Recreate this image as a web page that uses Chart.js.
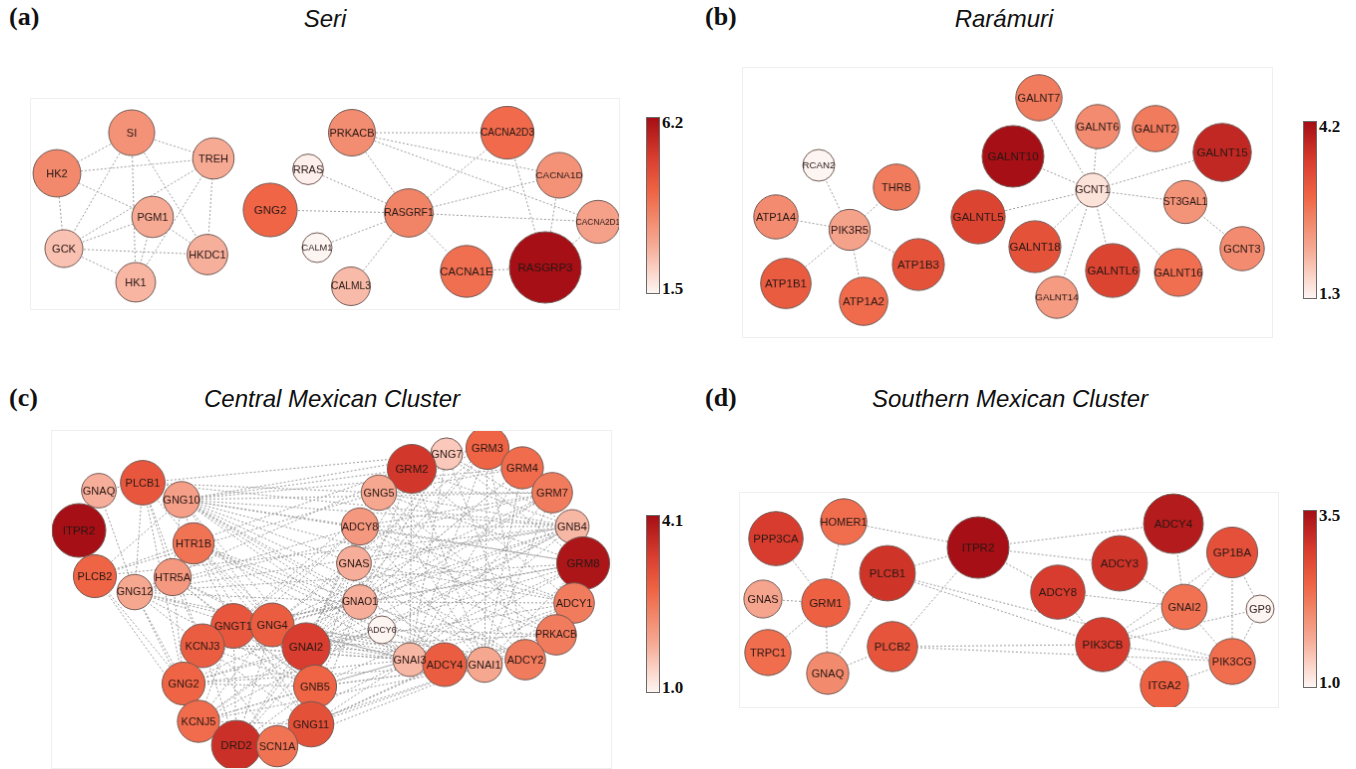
<!DOCTYPE html>
<html>
<head>
<meta charset="utf-8">
<script src="https://cdn.jsdelivr.net/npm/chart.js@4.4.1/dist/chart.umd.min.js"></script>
<style>
  body { margin: 0; background: #fff; width: 1356px; height: 769px; overflow: hidden; position: relative; }
  .tag { position: absolute; font: bold 26px "Liberation Serif", "Times New Roman", serif; color: #111; }
  .title { position: absolute; font: italic 24px "Liberation Sans", Arial, sans-serif; color: #111; transform: translateX(-50%); white-space: nowrap; }
  canvas { position: absolute; border: 1px solid #efefef; box-sizing: content-box; }
  .bar { position: absolute; width: 12px; border: 1px solid #6a6a6a; }
  .tick { position: absolute; font: bold 17px "Liberation Serif", "Times New Roman", serif; color: #111; line-height: 17px; }
</style>
</head>
<body>
<div class="tag" style="left:9px;top:2px">(a)</div>
<div class="title" style="left:325px;top:5px">Seri</div>
<div class="tag" style="left:705px;top:2px">(b)</div>
<div class="title" style="left:1004px;top:5px">Rarámuri</div>
<div class="tag" style="left:9px;top:383px">(c)</div>
<div class="title" style="left:332px;top:385px">Central Mexican Cluster</div>
<div class="tag" style="left:705px;top:383px">(d)</div>
<div class="title" style="left:1010px;top:385px">Southern Mexican Cluster</div>

<canvas id="netA" width="590" height="212" style="left:30px;top:98px"></canvas>
<canvas id="netB" width="531" height="271" style="left:742px;top:67px"></canvas>
<canvas id="netC" width="561" height="339" style="left:51px;top:430px"></canvas>
<canvas id="netD" width="540" height="216" style="left:739px;top:492px"></canvas>

<script>
// ---- (a) Seri ----
const seriGenes  = ['SI','TREH','HK2','PGM1','GCK','HKDC1','HK1','RRAS','GNG2','CALM1','PRKACB','CACNA2D3','CACNA1D','RASGRF1','CACNA2D1','CALML3','CACNA1E','RASGRP3'];
const seriValues = [3.3, 2.8, 3.5, 2.8, 2.4, 2.7, 2.6, 1.6, 4.2, 1.5, 3.4, 4.1, 3.3, 3.6, 3.0, 2.5, 4.0, 6.2];
const seriX      = [101, 183, 26, 122, 33, 177, 105, 278, 240, 287, 322, 478, 530, 379, 569, 321, 437, 516];
const seriY      = [34, 60, 75, 119, 151, 157, 185, 71, 112, 150, 34, 34, 77, 115, 124, 189, 174, 170];
const seriEdges  = 'SI-HK2 SI-TREH SI-GCK SI-HK1 SI-HKDC1 HK2-TREH HK2-PGM1 HK2-GCK TREH-GCK TREH-HK1 TREH-HKDC1 GCK-PGM1 GCK-HKDC1 GCK-HK1 PGM1-HK1 PGM1-HKDC1 ' +
  'PRKACB-CACNA2D3 PRKACB-CACNA1D PRKACB-CACNA2D1 PRKACB-RASGRF1 RRAS-RASGRF1 GNG2-RASGRF1 CALM1-RASGRF1 CALML3-RASGRF1 RASGRF1-CACNA2D3 RASGRF1-CACNA1D ' +
  'RASGRF1-CACNA2D1 RASGRF1-CACNA1E CACNA1E-RASGRP3 CACNA2D3-RASGRP3 CACNA1D-RASGRP3 CACNA2D1-RASGRP3';
const seriRange  = [1.5, 6.2];

// ---- (b) Rarámuri ----
const raraGenes  = ['GALNT7','GALNT10','RCAN2','THRB','ATP1A4','PIK3R5','GALNTL5','GALNT18','ATP1B3','ATP1B1','ATP1A2','GALNT14','GALNT6','GALNT2','GALNT15','GCNT1','ST3GAL1','GCNT3','GALNTL6','GALNT16'];
const raraValues = [2.7, 4.2, 1.3, 2.7, 2.5, 2.2, 3.45, 3.25, 3.25, 3.1, 2.9, 2.3, 2.5, 2.7, 3.85, 1.5, 2.4, 2.5, 3.45, 2.85];
const raraX      = [297, 271, 76, 154, 33, 107, 236, 293, 176, 43, 121, 315, 356, 414, 481, 351, 444, 501, 371, 437];
const raraY      = [30, 89, 98, 120, 150, 163, 150, 180, 198, 217, 235, 231, 59, 61, 85, 123, 135, 182, 204, 206];
const raraEdges  = 'PIK3R5-RCAN2 PIK3R5-THRB PIK3R5-ATP1A4 PIK3R5-ATP1B3 PIK3R5-ATP1B1 PIK3R5-ATP1A2 GCNT1-GALNT7 GCNT1-GALNT10 GCNT1-GALNT6 GCNT1-GALNT2 ' +
  'GCNT1-GALNT15 GCNT1-ST3GAL1 GCNT1-GALNTL5 GCNT1-GALNT18 GCNT1-GALNT14 GCNT1-GALNTL6 GCNT1-GALNT16 ST3GAL1-GCNT3';
const raraRange  = [1.3, 4.2];

// ---- (c) Central Mexican Cluster ----
const centGenes  = ['GNAQ','PLCB1','GNG10','ITPR2','HTR1B','PLCB2','HTR5A','GNG12','GNGT1','GNG4','KCNJ3','GNAI2','GNG2','GNB5','KCNJ5','GNG11','DRD2','SCN1A',
                    'GNG7','GRM3','GRM2','GRM4','GNG5','GRM7','ADCY8','GNB4','GNAS','GRM8','GNAO1','ADCY1','ADCY6','PRKACB','GNAI3','ADCY4','GNAI1','ADCY2'];
const centValues = [1.8, 3.0, 2.0, 4.1, 2.6, 2.8, 2.1, 1.9, 3.0, 2.9, 2.9, 3.4, 2.8, 2.8, 2.7, 3.1, 3.6, 2.6,
                    1.5, 2.8, 3.5, 2.7, 1.9, 2.5, 2.1, 1.7, 1.8, 4.0, 1.8, 2.5, 1.0, 2.5, 1.7, 2.9, 1.9, 2.5];
const centX      = [47, 91, 130, 27, 142, 43, 121, 83, 182, 221, 151, 255, 132, 264, 147, 260, 185, 226,
                    396, 437, 361, 472, 328, 502, 309, 522, 303, 533, 309, 524, 331, 506, 359, 394, 434, 475];
const centY      = [60, 52, 69, 100, 113, 146, 147, 162, 196, 195, 216, 217, 254, 257, 292, 295, 316, 317,
                    23, 17, 38, 37, 62, 62, 96, 96, 133, 133, 172, 173, 200, 205, 230, 235, 235, 230];
const centEdges  = 'PLCB1-GNAQ PLCB1-GNG10 PLCB1-GNG12 PLCB1-HTR5A PLCB1-HTR1B PLCB1-KCNJ3 PLCB1-GNG2 GNAQ-GNG12 GNG10-PLCB2 GNG10-HTR1B GNG10-HTR5A ' +
  'PLCB2-GNG2 PLCB2-KCNJ5 GNG12-KCNJ3 GNG12-GNG2 GNG12-KCNJ5 HTR5A-GNGT1 HTR5A-GNG4 HTR5A-KCNJ3 HTR5A-GNG2 HTR5A-GNAI2 HTR5A-GNB5 ' +
  'HTR1B-GNGT1 HTR1B-GNG4 HTR1B-GNAI2 HTR1B-GNB5 HTR1B-GNG11 HTR1B-GNAO1 HTR1B-GNAI1 HTR1B-GNAI3 HTR1B-ADCY6 GNG12-GNAO1 GNG12-GNAI2 GNG12-GNB5 ' +
  'GNG10-GRM2 GNG10-GRM3 GNG10-GRM4 GNG10-GRM7 GNG10-GRM8 GNG10-GNB4 GNG10-ADCY8 GNG10-GNAS GNG10-GNAO1 GNG10-GNAI1 GNG10-GNAI2 GNG10-GNAI3 ' +
  'GNG10-ADCY2 GNG10-GNB5 GNG10-ADCY1 GNG10-ADCY4 GNG12-GRM2 GNG12-GRM7 GNG12-GRM8 GNG12-ADCY8 GNG12-GNB4 GNG12-GNAI1 GNG12-GNAI3 ' +
  'PLCB1-GNG5 PLCB1-GNG7 PLCB1-GNB4 PLCB2-GNG5 PLCB2-GNG7 PLCB2-GNB4 ' +
  'GNGT1-GNB5 GNGT1-GNAI2 GNGT1-KCNJ3 GNGT1-KCNJ5 GNGT1-DRD2 GNG4-GNB5 GNG4-KCNJ3 GNG4-KCNJ5 GNG4-GNAI2 GNG2-GNB5 GNG2-GNAI2 GNG2-KCNJ3 ' +
  'GNG2-KCNJ5 GNG11-GNB5 GNG11-GNAI2 GNG11-KCNJ3 GNG11-KCNJ5 DRD2-GNAI2 DRD2-KCNJ3 DRD2-KCNJ5 DRD2-SCN1A DRD2-GNB5 SCN1A-KCNJ3 SCN1A-GNB5 ' +
  'GNAI2-KCNJ3 GNAI2-KCNJ5 GNB5-KCNJ3 GNB5-KCNJ5 GNGT1-GNG11 GNG4-DRD2 ' +
  'GNGT1-GNAO1 GNGT1-GNAI1 GNGT1-GNAI3 GNGT1-GRM2 GNGT1-GRM8 GNGT1-ADCY8 GNG4-GNAO1 GNG4-GNAI1 GNG4-GNAI3 GNG4-GRM3 GNG4-GRM7 GNG4-ADCY2 ' +
  'GNG4-GNAS GNAI2-GRM2 GNAI2-GRM3 GNAI2-GRM4 GNAI2-GRM7 GNAI2-GRM8 GNAI2-ADCY1 GNAI2-ADCY2 GNAI2-ADCY4 GNAI2-ADCY6 GNAI2-ADCY8 GNAI2-PRKACB ' +
  'GNAI2-GNB4 GNAI2-GNG5 GNAI2-GNG7 GNB5-GNAO1 GNB5-GNAI1 GNB5-GNAI3 GNB5-GRM8 GNB5-ADCY2 GNB5-GNAS GNG11-GNAO1 GNG11-GNAI1 GNG11-GNAI3 ' +
  'GNG11-ADCY4 GNG11-ADCY1 GNG2-GNAO1 GNG2-GNAI1 GNG2-GNAI3 GNG2-ADCY6 GNG2-ADCY8 KCNJ3-GNAO1 KCNJ3-GNAI1 KCNJ3-GNAI3 KCNJ3-GNB4 ' +
  'KCNJ5-GNAO1 KCNJ5-GNAI1 KCNJ5-GNAI3 KCNJ5-GNB4 DRD2-GNAO1 DRD2-GNAI1 DRD2-GNAI3 DRD2-GNAS SCN1A-GNAI1 ' +
  'GRM2-GNAI1 GRM2-GNAI3 GRM2-GNAO1 GRM2-GNB4 GRM2-GNG7 GRM3-GNAI1 GRM3-GNAI3 GRM3-GNAO1 GRM3-GNG5 GRM4-GNAI1 GRM4-GNAI3 GRM4-GNAO1 ' +
  'GRM4-GNG5 GRM7-GNAI1 GRM7-GNAI3 GRM7-GNAO1 GRM7-GNG5 GRM7-ADCY8 GRM8-GNAI1 GRM8-GNAI3 GRM8-GNAO1 GRM8-GNG5 GRM8-ADCY8 GRM8-GNG7 ' +
  'GNG5-GNB4 GNG5-GNAI1 GNG5-ADCY2 GNG5-PRKACB GNG7-GNB4 GNG7-GNAI3 GNG7-ADCY2 GNG7-GNAO1 GNB4-GNAI3 GNB4-GNAO1 GNB4-ADCY8 GNB4-GNAS ' +
  'GNB4-ADCY6 ADCY8-GNAS ADCY8-GNAI1 ADCY8-PRKACB ADCY8-ADCY1 GNAS-ADCY1 GNAS-ADCY2 GNAS-ADCY4 GNAS-ADCY6 GNAS-PRKACB GNAO1-ADCY1 ' +
  'GNAO1-ADCY2 ADCY1-GNAI1 ADCY1-GNAI3 ADCY1-PRKACB ADCY6-PRKACB ADCY6-GNAI1 ADCY6-GNAI3 PRKACB-ADCY2 PRKACB-ADCY4 GNAI3-ADCY2 ' +
  'GNAI3-ADCY4 GNAI1-ADCY2 GNAI1-ADCY4 GRM2-ADCY1 GRM3-ADCY2';
const centRange  = [1.0, 4.1];

// ---- (d) Southern Mexican Cluster ----
const southGenes  = ['HOMER1','PPP3CA','ITPR2','PLCB1','GNAS','GRM1','TRPC1','PLCB2','GNAQ','ADCY4','GP1BA','ADCY3','ADCY8','GNAI2','GP9','PIK3CB','PIK3CG','ITGA2'];
const southValues = [2.35, 2.95, 3.5, 3.05, 1.75, 2.5, 2.35, 2.65, 2.05, 3.35, 2.7, 3.05, 2.95, 2.3, 1.0, 2.95, 2.35, 2.5];
const southX      = [104, 36, 239, 148, 23, 86, 28, 153, 88, 435, 494, 381, 319, 446, 522, 364, 494, 426];
const southY      = [29, 46, 55, 81, 107, 111, 161, 155, 182, 31, 60, 71, 100, 115, 117, 153, 170, 194];
const southEdges  = 'HOMER1-ITPR2 HOMER1-GRM1 PPP3CA-GRM1 GNAS-GRM1 TRPC1-GRM1 GRM1-GNAQ PLCB1-GNAQ PLCB1-ITPR2 PLCB2-ITPR2 PLCB2-GNAQ ' +
  'PLCB1-PIK3CB PLCB1-PIK3CG PLCB2-PIK3CB PLCB2-PIK3CG ITPR2-ADCY4 ITPR2-ADCY3 ITPR2-ADCY8 ADCY4-GNAI2 ADCY3-GNAI2 ADCY8-GNAI2 ' +
  'ADCY8-PIK3CB GP1BA-GNAI2 GP1BA-GP9 GP1BA-PIK3CG GP1BA-PIK3CB GNAI2-PIK3CB GNAI2-PIK3CG GP9-PIK3CB GP9-PIK3CG PIK3CB-PIK3CG ' +
  'PIK3CB-ITGA2 ITGA2-PIK3CG';
const southRange  = [1.0, 3.5];

// white -> salmon -> red -> dark red
const colourStops = [[0, [253, 245, 242]], [0.12, [251, 213, 201]], [0.27, [246, 171, 150]], [0.42, [242, 138, 109]],
                     [0.58, [239, 100, 68]], [0.78, [216, 60, 46]], [1, [165, 15, 21]]];

function colourAt(t) {
  t = Math.max(0, Math.min(1, t));
  for (let i = 1; i < colourStops.length; i++) {
    const [t1, c1] = colourStops[i];
    const [t0, c0] = colourStops[i - 1];
    if (t <= t1) {
      const f = (t - t0) / (t1 - t0);
      const c = c0.map((v, k) => Math.round(v + (c1[k] - v) * f));
      return `rgb(${c[0]},${c[1]},${c[2]})`;
    }
  }
  return 'rgb(165,15,21)';
}

// draws gene name inside each circle
const nodeLabels = {
  id: 'nodeLabels',
  afterDatasetsDraw(chart) {
    const ctx = chart.ctx;
    const names = chart.data.datasets[0].names;
    const meta = chart.getDatasetMeta(0);
    ctx.save();
    ctx.textAlign = 'center';
    ctx.textBaseline = 'middle';
    ctx.fillStyle = '#2a1815';
    meta.data.forEach((el, i) => {
      const r = el.options.radius;
      let size = r >= 24 ? 11.5 : 11;
      ctx.font = `${size}px "Liberation Sans", Arial, sans-serif`;
      const w = ctx.measureText(names[i]).width;
      if (w > 2 * r + 1) {
        size = size * (2 * r + 1) / w;
        ctx.font = `${size}px "Liberation Sans", Arial, sans-serif`;
      }
      ctx.fillText(names[i], el.x, el.y + 0.5);
    });
    ctx.restore();
  }
};

function drawNetwork(id, genes, values, xs, ys, edges, range, rMin, rMax, box) {
  const [lo, hi] = range;
  const t = v => (v - lo) / (hi - lo);
  const idx = {};
  genes.forEach((g, i) => idx[g] = i);

  const nodes = genes.map((g, i) => ({ x: xs[i], y: ys[i], r: rMin + t(values[i]) * (rMax - rMin) }));
  const links = [];
  edges.split(' ').filter(Boolean).forEach(pair => {
    const [a, b] = pair.split('-').map(g => idx[g]);
    links.push({ x: xs[a], y: ys[a] }, { x: xs[b], y: ys[b] }, { x: xs[b], y: null });
  });

  new Chart(document.getElementById(id), {
    type: 'bubble',
    data: {
      datasets: [
        {
          names: genes,
          data: nodes,
          backgroundColor: values.map(v => colourAt(t(v))),
          borderColor: '#725a55',
          borderWidth: 1,
          clip: false,
          order: 1
        },
        {
          type: 'line',
          data: links,
          borderColor: '#9c9c9c',
          borderWidth: 1,
          borderDash: [2, 2],
          pointRadius: 0,
          spanGaps: false,
          fill: false,
          clip: false,
          order: 2
        }
      ]
    },
    options: {
      responsive: false,
      animation: false,
      events: [],
      layout: { padding: 0, autoPadding: false },
      scales: {
        x: { type: 'linear', min: 0, max: box[0], display: false },
        y: { type: 'linear', min: 0, max: box[1], reverse: true, display: false }
      },
      plugins: { legend: { display: false }, tooltip: { enabled: false } }
    },
    plugins: [nodeLabels]
  });
}

// colour bar with the min / max labels
function colourBar(left, top, height, range) {
  const bar = document.createElement('div');
  bar.className = 'bar';
  bar.style.left = left + 'px';
  bar.style.top = top + 'px';
  bar.style.height = height + 'px';
  const css = colourStops.map(([s, c]) => `rgb(${c.join(',')}) ${s * 100}%`).join(',');
  bar.style.background = `linear-gradient(to top, ${css})`;
  document.body.appendChild(bar);
  [[range[1], top - 3], [range[0], top + height - 12]].forEach(([v, y]) => {
    const lab = document.createElement('div');
    lab.className = 'tick';
    lab.textContent = v.toFixed(1);
    lab.style.left = (left + 16) + 'px';
    lab.style.top = y + 'px';
    document.body.appendChild(lab);
  });
}

window.addEventListener('DOMContentLoaded', () => {
  drawNetwork('netA', seriGenes, seriValues, seriX, seriY, seriEdges, seriRange, 15, 36, [590, 212]);
  drawNetwork('netB', raraGenes, raraValues, raraX, raraY, raraEdges, raraRange, 16, 31, [531, 271]);
  drawNetwork('netC', centGenes, centValues, centX, centY, centEdges, centRange, 14, 27, [561, 339]);
  drawNetwork('netD', southGenes, southValues, southX, southY, southEdges, southRange, 14, 31, [540, 216]);

  colourBar(646, 117, 175, seriRange);
  colourBar(1303, 121, 176, raraRange);
  colourBar(646, 515, 176, centRange);
  colourBar(1303, 510, 176, southRange);
});
</script>
</body>
</html>
